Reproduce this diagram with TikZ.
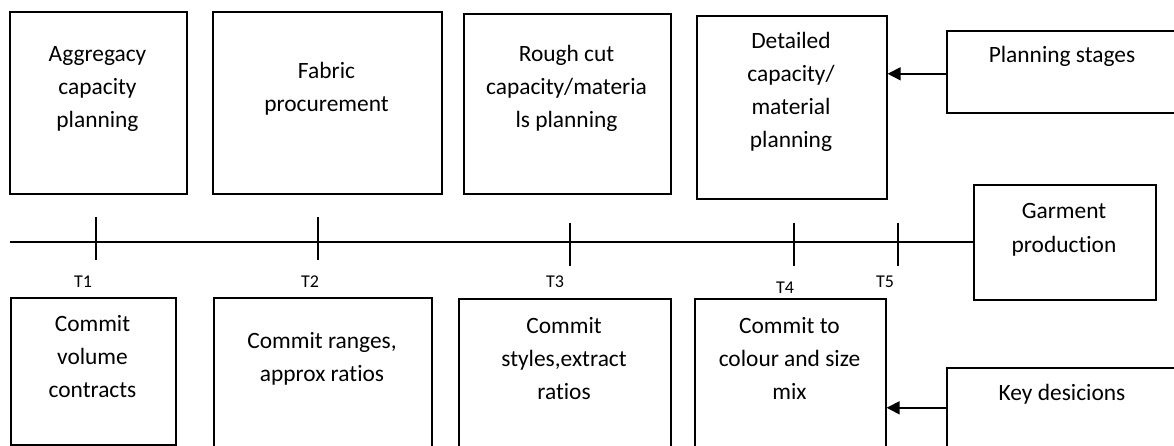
\documentclass[tikz,border=0pt]{standalone}
\usepackage{fontspec}
\setmainfont{Carlito}[Ligatures=NoCommon]
\usetikzlibrary{arrows.meta}
\begin{document}
\begin{tikzpicture}[x=1pt,y=-1pt,
  box/.style={draw, line width=1.6pt, inner sep=0pt, anchor=north west},
  % multi-line texts are placed by the baseline of their last line
  txt/.style={anchor=base, align=center, inner sep=0pt,
    font=\fontsize{23.4}{33}\selectfont},
  tlabel/.style={anchor=base, inner sep=0pt, font=\fontsize{18}{20}\selectfont},
  tick/.style={line width=1.5pt},
  arr/.style={line width=1.6pt, -{Triangle[length=13pt,width=13pt]}}]
\useasboundingbox (0,0) rectangle (1174,446);
\clip (0,0) rectangle (1174,446);

% planning stages (upper row)
\node[box, minimum width=177pt, minimum height=182pt] (A) at (9,11) {};
\node[box, minimum width=229pt, minimum height=182pt] (B) at (212,11) {};
\node[box, minimum width=207pt, minimum height=180pt] (C) at (463,13) {};
\node[box, minimum width=190pt, minimum height=183pt] (D) at (696,15) {};
\node[box, minimum width=232pt, minimum height=82pt] (PS) at (946,30) {};
\node[box, minimum width=182pt, minimum height=115pt] (GP) at (973,184) {};

\node[txt] (At) at (97.5,128) {Aggregacy\\capacity\\planning};
\node[txt] (Bt) at (326.5,112) {Fabric\\procurement};
\node[txt] (Ct) at (566.5,128) {Rough cut\\capacity/materia\\ls planning};
\node[txt] (Dt) at (791,148) {Detailed\\capacity/\\material\\planning};
\node[txt] (PSt) at (1062,63) {Planning stages};
\node[txt] (GPt) at (1064,252) {Garment\\production};

% key decisions (lower row)
\node[box, minimum width=165pt, minimum height=147pt] (E) at (10,297) {};
\node[box, minimum width=218pt, minimum height=170pt] (F) at (213,297) {};
\node[box, minimum width=212pt, minimum height=170pt] (G) at (458,298) {};
\node[box, minimum width=191pt, minimum height=170pt] (H) at (694,298) {};
\node[box, minimum width=232pt, minimum height=100pt] (KD) at (946,367) {};

\node[txt] (Et) at (92.5,397) {Commit\\volume\\contracts};
\node[txt] (Ft) at (322,381) {Commit ranges,\\approx ratios};
\node[txt] (Gt) at (564,399) {Commit\\styles,extract\\ratios};
\node[txt] (Ht) at (789.5,399) {Commit to\\colour and size\\mix};
\node[txt] (KDt) at (1062,400) {Key desicions};

% time line with its marks
\coordinate (start) at (10,242);
\draw[line width=1.5pt] (start) -- (start -| GP.west);
\draw[tick] (96,217) -- (96,260);
\draw[tick] (318,217) -- (318,260);
\draw[tick] (570,223) -- (570,266);
\draw[tick] (794,223) -- (794,266);
\draw[tick] (898,223) -- (898,266);

\node[tlabel] (T1) at (83,287) {T1};
\node[tlabel] (T2) at (310,287) {T2};
\node[tlabel] (T3) at (555,287) {T3};
\node[tlabel] (T4) at (785,293) {T4};
\node[tlabel] (T5) at (885,287) {T5};

% pointers from the legend boxes
\draw[arr] ([yshift=-2pt]PS.west) -- ([yshift=-2pt]PS.west -| D.east);
\draw[arr] ([yshift=10pt]KD.west) -- ([yshift=10pt]KD.west -| H.east);
\end{tikzpicture}
\end{document}
